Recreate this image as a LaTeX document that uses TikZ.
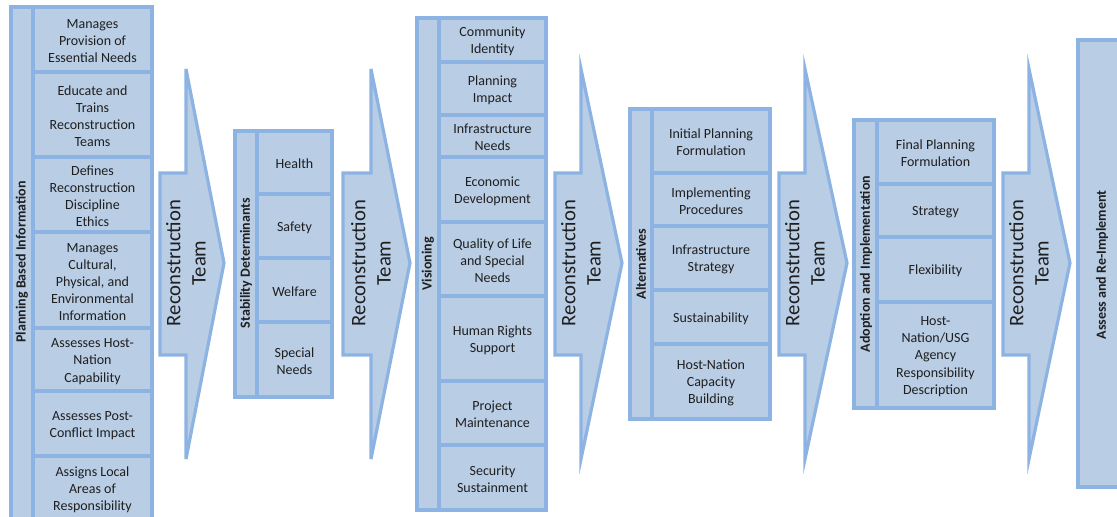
\documentclass[tikz,border=0pt]{standalone}
\usepackage{fontspec}
\setmainfont{Carlito}
\definecolor{boxfill}{HTML}{B9CDE5}
\definecolor{boxline}{HTML}{8DB3E2}
\definecolor{txt}{HTML}{1F1F1F}
\begin{document}
\begin{tikzpicture}[x=0.75pt,y=-0.75pt,
  shapeline/.style={draw=boxline, fill=boxfill, line width=2.4pt},
  celltext/.style={font=\fontsize{10.5}{12.8}\selectfont, align=center, text=txt, inner sep=0pt, yshift=-1.2pt},
  headtext/.style={font=\bfseries\fontsize{10.5}{12.8}\selectfont, rotate=90, text=txt, inner sep=0pt},
  teamtext/.style={font=\fontsize{15.5}{19}\selectfont, rotate=90, align=center, text=txt, inner sep=0pt}]
\useasboundingbox (0,0) rectangle (1117,517);
\clip (0,0) rectangle (1117,517);

% ---------- Arrows ----------
\foreach \bx/\hx/\tx [count=\i] in {160/186/224, 343/371/410, 555/581/622, 779/805/847, 1003/1029/1070} {
  \draw[shapeline] (\bx,173) -- (\hx,173) -- (\hx,69) -- (\tx,263) -- (\hx,459) -- (\hx,355) -- (\bx,355) -- cycle;
  \node[teamtext] (team\i) at (\hx,263) {Reconstruction\\Team};
}

% ---------- Column 1 ----------
\draw[shapeline] (11,7) rectangle (33,535);
\foreach \ya/\yb in {7/72, 72/157, 157/232, 232/328, 328/391, 391/456, 456/535}
  \draw[shapeline] (33,\ya) rectangle (152,\yb);
\node[headtext] (h1) at (22,262) {Planning Based Information};
\node[celltext] (c1a) at (92.5,39.5) {Manages\\Provision of\\Essential Needs};
\node[celltext] (c1b) at (92.5,114.5) {Educate and\\Trains\\Reconstruction\\Teams};
\node[celltext] (c1c) at (92.5,194.5) {Defines\\Reconstruction\\Discipline\\Ethics};
\node[celltext] (c1d) at (92.5,280.5) {Manages\\Cultural,\\Physical, and\\Environmental\\Information};
\node[celltext] (c1e) at (92.5,360) {Assesses Host-\\Nation\\Capability};
\node[celltext] (c1f) at (92.5,424) {Assesses Post-\\Conflict Impact};
\node[celltext] (c1g) at (92.5,488) {Assigns Local\\Areas of\\Responsibility};

% ---------- Column 2 ----------
\draw[shapeline] (235,131) rectangle (257,397);
\foreach \ya/\yb in {131/194, 194/258, 258/322, 322/397}
  \draw[shapeline] (257,\ya) rectangle (332,\yb);
\node[headtext] (h2) at (246,263) {Stability Determinants};
\node[celltext] (c2a) at (294.5,162.5) {Health};
\node[celltext] (c2b) at (294.5,226) {Safety};
\node[celltext] (c2c) at (294.5,290) {Welfare};
\node[celltext] (c2d) at (294.5,360) {Special\\Needs};

% ---------- Column 3 ----------
\draw[shapeline] (417,18) rectangle (439,510);
\foreach \ya/\yb in {18/62, 62/115, 115/157, 157/222, 222/296, 296/381, 381/445, 445/510}
  \draw[shapeline] (439,\ya) rectangle (546,\yb);
\node[headtext] (h3) at (428,264) {Visioning};
\node[celltext] (c3a) at (492.5,40) {Community\\Identity};
\node[celltext] (c3b) at (492.5,88.5) {Planning\\Impact};
\node[celltext] (c3c) at (492.5,136) {Infrastructure\\Needs};
\node[celltext] (c3d) at (492.5,189.5) {Economic\\Development};
\node[celltext] (c3e) at (492.5,259) {Quality of Life\\and Special\\Needs};
\node[celltext] (c3f) at (492.5,339) {Human Rights\\Support};
\node[celltext] (c3g) at (492.5,413) {Project\\Maintenance};
\node[celltext] (c3h) at (492.5,477.5) {Security\\Sustainment};

% ---------- Column 4 ----------
\draw[shapeline] (630,109) rectangle (652,419);
\foreach \ya/\yb in {109/173, 173/226, 226/290, 290/344, 344/419}
  \draw[shapeline] (652,\ya) rectangle (770,\yb);
\node[headtext] (h4) at (641,264) {Alternatives};
\node[celltext] (c4a) at (711,141) {Initial Planning\\Formulation};
\node[celltext] (c4b) at (711,199.5) {Implementing\\Procedures};
\node[celltext] (c4c) at (711,258) {Infrastructure\\Strategy};
\node[celltext] (c4d) at (711,317) {Sustainability};
\node[celltext] (c4e) at (711,381.5) {Host-Nation\\Capacity\\Building};

% ---------- Column 5 ----------
\draw[shapeline] (854,120) rectangle (877,408);
\foreach \ya/\yb in {120/184, 184/237, 237/302, 302/408}
  \draw[shapeline] (877,\ya) rectangle (994,\yb);
\node[headtext] (h5) at (866,264) {Adoption and Implementation};
\node[celltext] (c5a) at (935.5,152) {Final Planning\\Formulation};
\node[celltext] (c5b) at (935.5,210.5) {Strategy};
\node[celltext] (c5c) at (935.5,269.5) {Flexibility};
\node[celltext] (c5d) at (935.5,355) {Host-\\Nation/USG\\Agency\\Responsibility\\Description};

% ---------- Column 6 ----------
\draw[shapeline] (1078,40) rectangle (1135,487);
\node[headtext] (h6) at (1102,265) {Assess and Re-Implement};
\end{tikzpicture}
\end{document}
